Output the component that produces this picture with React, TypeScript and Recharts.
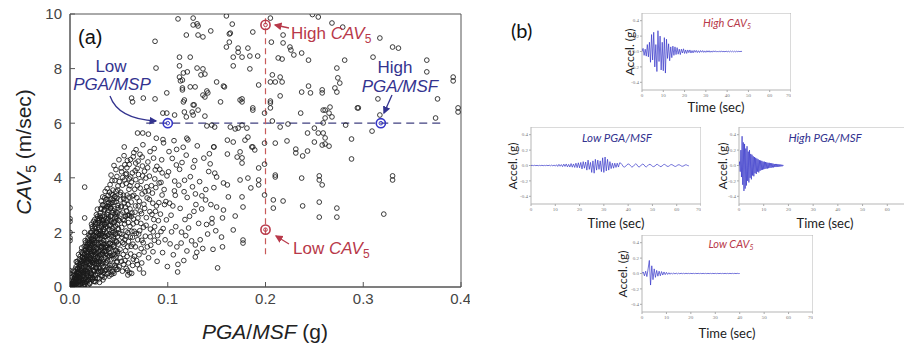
import { ScatterChart, Scatter, XAxis, YAxis, ReferenceLine, ReferenceArea, LineChart, Line } from "recharts";

// ---- panel (a) : CAV5 vs PGA/MSF ----
const pgaTicks = [0, 0.1, 0.2, 0.3, 0.4];
const cavTicks = [0, 2, 4, 6, 8, 10];

// dense part of the cloud, PGA/MSF <= 0.05 g
const denseCloud = [
  [0.001,0.02],[0.002,0.05],[0.003,0.03],[0.004,0.08],[0.002,0.12],[0.003,0.18],[0.004,0.25],[0.001,0.1],[0,0.5],[0,0.6],[0,1.7],[0,1.8],[0,2.0],[0,2.5],[0,2.9],[0,2.4],
  [0.005,0.05],[0.006,0.1],[0.007,0.15],[0.008,0.08],[0.006,0.25],[0.007,0.3],[0.008,0.4],[0.009,0.2],[0.005,0.35],[0.009,0.55],[0.008,0.65],[0.007,0.5],[0.006,0.45],[0.009,0.35],[0.0095,0.75],
  [0.010,0.1],[0.011,0.2],[0.012,0.3],[0.013,0.15],[0.014,0.25],[0.010,0.45],[0.011,0.6],[0.012,0.7],[0.013,0.55],[0.014,0.85],[0.012,0.95],[0.013,1.1],[0.011,0.85],[0.014,0.5],[0.010,0.35],[0.0135,0.4],[0.0125,1.25],[0.014,1.05],
  [0.015,0.1],[0.016,0.3],[0.017,0.2],[0.018,0.4],[0.019,0.25],[0.015,0.6],[0.016,0.75],[0.017,0.9],[0.018,1.0],[0.019,0.7],[0.015,1.2],[0.016,1.35],[0.017,1.5],[0.018,1.25],[0.019,1.6],[0.017,1.1],[0.016,0.5],[0.019,1.4],[0.018,0.55],[0.0155,1.7],[0.0185,1.8],[0.015,2.0],
  [0.020,0.15],[0.021,0.35],[0.022,0.5],[0.023,0.3],[0.024,0.6],[0.020,0.8],[0.021,1.0],[0.022,1.15],[0.023,0.9],[0.024,1.3],[0.020,1.45],[0.021,1.6],[0.022,1.75],[0.023,1.5],[0.024,1.9],[0.021,2.0],[0.023,2.15],[0.022,1.3],[0.020,1.1],[0.024,0.95],[0.022,2.3],[0.024,2.4],[0.0205,0.6],[0.0235,1.7],
  [0.025,0.2],[0.026,0.45],[0.027,0.7],[0.028,0.5],[0.029,0.85],[0.025,1.0],[0.026,1.2],[0.027,1.4],[0.028,1.1],[0.029,1.55],[0.025,1.7],[0.026,1.85],[0.027,2.0],[0.028,1.8],[0.029,2.1],[0.026,2.3],[0.028,2.5],[0.027,2.65],[0.029,2.35],[0.025,2.2],[0.029,1.25],[0.027,0.95],[0.026,0.7],[0.028,2.85],[0.0255,1.45],
  [0.030,0.3],[0.031,0.55],[0.032,0.8],[0.033,0.6],[0.034,1.0],[0.030,1.15],[0.031,1.35],[0.032,1.5],[0.033,1.25],[0.034,1.7],[0.030,1.9],[0.031,2.05],[0.032,2.2],[0.033,1.95],[0.034,2.35],[0.030,2.5],[0.031,2.7],[0.032,2.85],[0.033,2.6],[0.034,3.0],[0.032,3.15],[0.030,0.9],[0.033,0.4],[0.034,1.45],[0.031,1.75],[0.0325,2.45],[0.0335,3.3],
  [0.035,0.35],[0.036,0.6],[0.037,0.9],[0.038,0.7],[0.039,1.1],[0.035,1.3],[0.036,1.5],[0.037,1.7],[0.038,1.45],[0.039,1.9],[0.035,2.1],[0.036,2.3],[0.037,2.5],[0.038,2.2],[0.039,2.65],[0.035,2.8],[0.036,3.0],[0.037,3.2],[0.038,2.95],[0.039,3.35],[0.036,3.5],[0.038,3.6],[0.037,1.2],[0.039,0.5],[0.0355,1.85],[0.0385,2.45],
  [0.040,0.4],[0.041,0.7],[0.042,1.0],[0.043,0.8],[0.044,1.2],[0.040,1.4],[0.041,1.6],[0.042,1.85],[0.043,1.55],[0.044,2.0],[0.040,2.25],[0.041,2.45],[0.042,2.6],[0.043,2.35],[0.044,2.8],[0.040,3.0],[0.041,3.2],[0.042,3.4],[0.043,3.1],[0.044,3.55],[0.041,3.75],[0.043,3.9],[0.042,4.1],[0.044,0.55],[0.0405,1.15],[0.0435,2.15],[0.0415,2.9],
  [0.045,0.5],[0.046,0.8],[0.047,1.1],[0.048,0.9],[0.049,1.3],[0.045,1.5],[0.046,1.7],[0.047,1.95],[0.048,1.65],[0.049,2.15],[0.045,2.35],[0.046,2.55],[0.047,2.75],[0.048,2.5],[0.049,2.9],[0.045,3.1],[0.046,3.3],[0.047,3.5],[0.048,3.25],[0.049,3.7],[0.046,3.9],[0.048,4.05],[0.047,4.3],[0.045,4.45],[0.049,0.65],[0.0465,1.35],[0.0485,2.3],
];

// more records inside the black core
const coreCloud = [
  [0.0021,0.14],[0.0093,0.52],[0.0047,0.03],[0.0128,0.87],[0.0066,0.31],[0.0112,0.09],[0.0035,0.22],[0.0141,0.44],[0.0078,0.68],[0.0019,0.36],[0.0104,1.12],[0.0059,0.11],[0.0133,0.26],[0.0087,0.19],[0.0149,1.03],[0.0026,0.07],[0.0118,0.61],[0.0071,0.42],[0.0097,0.83],[0.0052,0.57],
  [0.0137,0.71],[0.0011,0.25],[0.0084,0.05],[0.0123,0.38],[0.0062,0.74],[0.0108,0.29],[0.0039,0.46],[0.0146,0.16],[0.0075,0.93],[0.0114,0.79],[0.0029,0.11],[0.0091,0.33],[0.0056,0.2],[0.0131,1.21],[0.0069,0.05],[0.0101,0.65],[0.0044,0.31],[0.0139,0.56],[0.0081,0.47],[0.0017,0.04],
  [0.0153,0.33],[0.0228,1.41],[0.0184,0.07],[0.0271,0.88],[0.0166,1.27],[0.0243,0.21],[0.0199,1.69],[0.0291,1.96],[0.0175,0.58],[0.0257,1.12],[0.0212,0.41],[0.0284,0.33],[0.0161,0.92],[0.0236,2.07],[0.0192,1.04],[0.0269,1.63],[0.0221,0.76],[0.0298,1.31],[0.0178,1.46],[0.0249,0.57],
  [0.0205,1.88],[0.0277,2.31],[0.0158,0.62],[0.0233,0.98],[0.0188,0.26],[0.0262,1.84],[0.0216,1.53],[0.0295,0.71],[0.0171,1.13],[0.0244,1.37],[0.0202,0.12],[0.0281,1.09],[0.0167,0.19],[0.0239,1.76],[0.0195,0.69],[0.0266,0.42],[0.0226,2.21],[0.0289,1.58],[0.0181,1.71],[0.0253,0.87],
  [0.0209,1.22],[0.0274,2.02],[0.0163,1.48],[0.0231,0.35],[0.0197,1.37],[0.0259,2.14],[0.0218,0.95],[0.0293,2.43],[0.0186,0.84],[0.0247,1.62],[0.0207,0.53],[0.0279,1.43],[0.0172,0.44],[0.0241,1.19],[0.0194,1.91],[0.0264,0.19],[0.0223,1.67],[0.0286,0.94],[0.0155,1.07],[0.0237,0.74],
  [0.0304,2.61],[0.0387,1.17],[0.0341,0.52],[0.0452,2.38],[0.0318,1.44],[0.0419,3.04],[0.0363,2.19],[0.0476,1.66],[0.0329,0.87],[0.0401,1.93],[0.0352,2.84],[0.0468,0.71],[0.0312,1.95],[0.0436,2.72],[0.0374,1.51],[0.0491,2.99],[0.0337,2.43],[0.0409,0.79],[0.0358,1.08],[0.0443,1.79],
  [0.0323,0.41],[0.0427,2.07],[0.0381,3.22],[0.0484,1.24],[0.0346,1.71],[0.0395,2.53],[0.0369,0.64],[0.0459,3.31],[0.0308,1.18],[0.0415,1.42],[0.0377,2.67],[0.0497,2.11],[0.0333,3.01],[0.0448,1.04],[0.0361,1.86],[0.0473,2.58],[0.0317,2.27],[0.0405,3.47],[0.0386,0.96],[0.0462,1.93],
  [0.0349,1.29],[0.0431,0.58],[0.0371,2.36],[0.0489,3.55],[0.0326,1.63],[0.0422,2.41],[0.0356,3.27],[0.0457,2.86],[0.0339,0.73],[0.0411,1.61],[0.0383,1.89],[0.0479,0.93],[0.0314,2.88],[0.0439,3.38],[0.0366,1.31],[0.0494,1.57],[0.0343,2.12],[0.0398,2.94],[0.0378,0.47],[0.0466,2.23],
  [0.0321,1.06],[0.0446,1.47],[0.0354,2.57],[0.0487,2.71],[0.0334,1.87],[0.0413,2.26],[0.0391,1.39],[0.0471,3.12],[0.0306,0.69],[0.0428,1.15],
  [0.0043,0.41],[0.0138,0.97],[0.0076,0.24],[0.0167,1.39],[0.0121,0.14],[0.0054,0.66],[0.0183,0.49],[0.0095,1.01],[0.0152,0.08],[0.0064,0.93],[0.0129,0.53],[0.0188,1.17],[0.0034,0.58],[0.0116,1.29],[0.0172,0.71],[0.0081,0.87],[0.0145,1.49],[0.0102,0.22],[0.0196,0.36],[0.0058,0.39],
  [0.0134,0.04],[0.0169,1.02],[0.0088,1.19],[0.0111,0.47],[0.0179,1.58],[0.0049,0.18],[0.0157,0.81],[0.0099,0.72],[0.0143,1.33],[0.0073,0.55],[0.0191,0.93],[0.0125,1.08],[0.0061,0.28],[0.0174,0.27],[0.0106,0.91],[0.0159,1.62],[0.0086,0.36],[0.0119,1.43],[0.0185,1.31],[0.0041,0.08],
  [0.0212,0.84],[0.0297,2.18],[0.0248,1.47],[0.0333,1.34],[0.0227,0.27],[0.0318,0.58],[0.0263,2.36],[0.0344,2.47],[0.0201,1.63],[0.0286,1.77],[0.0239,0.63],[0.0327,2.31],[0.0258,0.32],[0.0309,1.62],[0.0219,1.99],[0.0341,0.91],[0.0272,1.23],[0.0302,0.17],[0.0234,1.87],[0.0321,1.91],
  [0.0253,2.47],[0.0347,1.57],[0.0208,1.04],[0.0291,0.59],[0.0244,0.91],[0.0314,2.54],[0.0269,0.68],[0.0337,0.26],[0.0225,1.21],[0.0306,1.47],[0.0276,1.9],[0.0329,1.19],[0.0215,0.47],[0.0283,2.59],[0.0251,1.29],[0.0339,2.03],[0.0232,1.59],[0.0311,0.94],[0.0267,2.01],[0.0294,1.04],
  [0.0362,1.45],[0.0451,2.02],[0.0397,0.66],[0.0518,2.93],[0.0384,2.74],[0.0472,1.32],[0.0419,2.88],[0.0539,1.63],[0.0372,1.97],[0.0463,2.67],[0.0408,1.24],[0.0527,0.94],[0.0393,3.09],[0.0487,1.86],[0.0424,0.46],[0.0556,2.44],[0.0367,0.88],[0.0441,3.19],[0.0403,2.11],[0.0574,1.86],
  [0.0352,2.29],[0.0495,2.46],[0.0431,1.73],[0.0549,3.23],[0.0389,1.59],[0.0478,0.64],[0.0416,2.59],[0.0586,2.62],[0.0374,2.89],[0.0458,1.18],
];

// 0.05 - 0.15 g, thinning out
const outerCloud = [
  [0.0512,1.38],[0.0634,2.71],[0.0571,4.12],[0.0789,3.26],[0.0548,0.83],[0.0703,1.94],[0.0662,3.58],[0.0857,2.47],[0.0527,2.96],[0.0741,4.43],[0.0598,1.67],[0.0912,3.81],[0.0583,3.37],[0.0681,0.97],[0.0613,2.22],[0.0826,1.53],[0.0539,4.01],[0.0764,2.88],[0.0647,4.77],[0.0953,2.14],
  [0.0506,2.43],[0.0718,3.62],[0.0589,0.61],[0.0872,4.29],[0.0621,1.21],[0.0695,2.53],[0.0556,3.08],[0.0804,1.07],[0.0673,3.93],[0.0938,4.66],[0.0533,1.82],[0.0752,2.19],[0.0606,4.49],[0.0843,3.44],[0.0567,2.58],[0.0728,1.41],[0.0641,0.79],[0.0896,1.88],[0.0518,3.47],[0.0776,3.99],
  [0.0626,3.11],[0.0981,3.13],[0.0592,1.99],[0.0687,4.34],[0.0545,1.19],[0.0817,2.76],[0.0657,2.04],[0.0925,2.67],[0.0575,3.79],[0.0734,0.88],[0.0614,2.86],[0.0862,5.07],[0.0503,0.74],[0.0709,3.14],[0.0669,1.47],[0.0947,1.26],[0.0559,2.31],[0.0797,4.58],[0.0638,4.18],[0.0884,2.97],
  [0.0524,4.36],[0.0611,0.52],[0.0746,5.21],[0.0693,1.73],[0.0552,1.57],[0.0833,3.71],[0.0578,2.79],[0.0716,4.86],[0.0649,2.49],[0.0905,1.64],[0.0537,3.73],[0.0771,1.86],[0.0628,3.84],[0.0866,2.21],[0.0587,4.63],[0.0699,2.97],[0.0509,1.96],[0.0812,4.06],[0.0659,1.12],[0.0963,3.57],
  [0.0563,0.97],[0.0738,3.41],[0.0617,1.83],[0.0849,1.29],[0.0596,2.36],[0.0684,3.27],[0.0541,2.74],[0.0781,2.54],[0.0672,4.54],[0.0918,4.31],[0.0515,3.19],[0.0725,2.33],[0.0603,3.58],[0.0878,3.64],[0.0569,1.33],[0.0756,3.03],[0.0644,1.57],[0.0992,4.07],[0.0582,4.37],[0.0706,1.18],
  [0.0529,2.18],[0.0823,2.12],[0.0653,3.36],[0.0931,2.03],[0.0574,3.18],[0.0743,4.07],[0.0619,4.67],[0.0855,4.72],[0.0501,4.66],[0.0711,0.66],[0.0665,2.74],[0.0957,5.28],[0.0553,4.81],[0.0791,1.47],[0.0632,2.04],[0.0891,0.94],[0.0593,3.02],[0.0677,1.96],[0.0547,3.36],[0.0802,3.52],
  [0.0676,5.03],[0.0942,3.37],[0.0536,0.58],[0.0762,4.24],[0.0609,2.63],[0.0838,2.66],[0.0584,1.12],[0.0732,2.69],[0.0637,3.33],[0.0973,1.73],[0.0521,2.67],[0.0784,3.67],[0.0666,4.26],[0.0909,3.09],[0.0561,4.48],[0.0701,4.12],[0.0625,1.49],[0.0867,3.96],[0.0597,0.88],[0.0689,3.71],
  [0.0513,1.07],[0.0819,4.96],[0.0647,1.02],[0.0986,2.46],[0.0572,2.05],[0.0749,1.62],[0.0604,3.29],[0.0851,2.02],[0.0558,3.92],[0.0719,2.78],[0.0744,5.64],[0.0691,5.64],[0.0555,5.13],[0.0802,5.6],[0.0883,5.45],[0.0951,5.4],[0.0631,0.5],[0.0752,0.51],[0.0592,0.44],[0.0996,0.75],
  [0.0531,1.93],[0.0727,3.87],[0.0613,3.71],[0.0863,1.71],[0.0568,2.93],[0.0779,2.26],[0.0646,2.31],[0.0931,3.83],[0.0504,3.86],[0.0697,4.61],[0.0589,1.47],[0.0812,3.21],[0.0671,2.97],[0.0889,4.42],[0.0544,2.48],[0.0758,1.28],[0.0621,4.03],[0.0847,3.07],[0.0577,4.16],[0.0713,2.06],
  [0.0639,1.82],[0.0904,2.43],[0.0516,3.38],[0.0768,3.49],[0.0653,4.92],[0.0967,3.02],[0.0596,2.63],[0.0735,1.71],[0.0528,4.22],[0.0821,1.84],[0.0682,2.37],[0.0875,2.77],[0.0561,1.74],[0.0794,4.37],[0.0607,3.96],[0.0943,4.18],[0.0575,0.68],[0.0689,0.82],[0.0738,4.76],[0.0626,2.58],
  [0.1034,2.63],[0.1172,3.91],[0.1093,1.47],[0.1261,4.39],[0.1127,2.88],[0.1389,3.57],[0.1046,4.71],[0.1213,2.16],[0.1332,1.73],[0.1158,5.12],[0.1419,4.23],[0.1077,3.36],[0.1288,3.02],[0.1196,1.32],[0.1453,2.51],[0.1064,5.36],
  [0.1019,3.07],[0.1231,4.04],[0.1082,2.21],[0.1347,2.86],[0.1146,4.56],[0.1408,1.94],[0.1057,1.18],[0.1283,3.41],[0.1113,3.73],[0.1472,3.64],[0.1008,4.22],[0.1244,1.69],[0.1176,2.47],[0.1369,4.72],[0.1091,5.04],[0.1316,2.33],[0.1137,1.61],[0.1434,4.51],[0.1039,2.02],[0.1268,2.77],
  [0.1199,3.28],[0.1387,3.19],[0.1071,3.88],[0.1302,5.17],[0.1164,0.97],[0.1491,2.06],[0.1024,1.58],[0.1253,3.67],[0.1121,4.31],[0.1358,1.41],[0.1189,4.83],[0.1441,3.02],[0.1052,2.97],[0.1276,4.63],[0.1104,0.83],[0.1326,3.86],[0.1167,3.49],[0.1463,1.38],[0.1013,4.96],[0.1223,2.59],
  [0.1088,4.47],[0.1397,2.29],[0.1141,2.01],[0.1297,1.27],[0.1206,5.39],[0.1426,4.88],[0.1068,3.52],[0.1349,3.34],[0.1184,1.88],[0.1481,4.17],[0.1101,0.55],[0.1282,1.1],[0.1282,1.54],[0.1452,2.34],[0.1473,5.13],[0.1195,5.45],
];

// sparse records above ~6 m/sec
const upperRecords = [
  [0.1105,9.82],[0.126,9.85],[0.126,9.6],[0.130,9.64],[0.131,9.56],[0.160,9.93],[0.087,9.0],[0.119,9.23],[0.131,9.23],[0.136,9.16],[0.144,9.38],[0.163,9.27],[0.163,8.97],[0.166,9.63],[0.160,8.79],[0.172,8.75],[0.172,8.6],[0.182,8.75],[0.187,9.34],
  [0.112,8.42],[0.123,8.42],[0.112,8.1],[0.116,7.84],[0.120,7.88],[0.112,7.69],[0.113,7.55],[0.130,8.02],[0.136,7.99],[0.134,7.77],[0.138,7.8],[0.088,8.02],[0.167,8.42],[0.167,8.1],[0.176,8.42],[0.184,8.46],[0.192,8.46],[0.184,7.99],
  [0.128,7.33],[0.140,7.18],[0.141,7.11],[0.136,7.03],[0.138,6.96],[0.115,7.22],[0.099,7.11],[0.150,7.51],[0.158,7.33],[0.117,6.85],[0.126,6.67],[0.117,6.41],[0.125,6.41],[0.131,6.48],[0.176,6.89],[0.193,7.4],[0.187,6.48],
  [0.205,6.81],[0.205,6.74],[0.205,6.56],[0.205,9.85],[0.207,7.77],[0.205,7.51],[0.210,7.51],[0.215,7.69],[0.217,7.51],[0.218,9.23],[0.218,8.94],[0.225,8.79],[0.226,8.68],[0.206,8.97],[0.213,8.39],[0.217,8.35],[0.229,8.5],[0.237,8.57],[0.244,8.31],[0.248,9.98],[0.254,9.89],
  [0.215,7.0],[0.237,7.14],[0.244,7.36],[0.258,7.22],[0.258,7.11],[0.246,7.11],[0.261,6.48],[0.266,6.59],[0.236,6.37],[0.199,6.37],[0.279,9.52],[0.268,9.67],[0.317,9.12],[0.330,8.79],[0.336,8.75],[0.310,8.42],[0.365,8.31],[0.281,8.31],
  [0.273,8.02],[0.274,7.66],[0.276,7.47],[0.365,7.88],[0.392,7.69],[0.392,7.55],[0.271,7.29],[0.273,7.14],[0.376,6.89],[0.315,6.89],[0.294,6.56],[0.317,6.3],[0.397,6.56],[0.397,6.41],[0.374,6.19],
  [0.063,6.92],[0.075,6.92],[0.087,6.89],[0.064,6.78],[0.099,6.37],[0.095,6.37],[0.115,7.58],[0.115,7.29],[0.123,7.33],[0.107,6.3],[0.119,6.23],[0.126,6.3],[0.138,6.26],[0.127,6.67],[0.116,6.78],[0.154,6.78],[0.176,6.78],[0.187,6.56],
  [0.164,9.3],[0.157,7.36],[0.174,6.85],[0.259,6.48],[0.265,6.37],[0.268,6.23],[0.295,6.56],
];

// sparse records below ~6.3 m/sec, right of the cloud
const middleRecords = [
  [0.261,6.19],[0.259,6.01],[0.207,6.08],[0.215,5.86],[0.223,5.97],[0.250,5.82],[0.243,5.64],[0.254,5.64],[0.259,5.64],[0.261,5.46],[0.258,5.2],[0.261,5.24],[0.265,5.16],[0.250,5.31],[0.282,5.93],[0.309,5.71],[0.288,5.42],
  [0.210,5.27],[0.222,5.35],[0.231,5.05],[0.231,4.91],[0.238,4.8],[0.243,4.98],[0.288,4.69],[0.210,4.1],[0.210,4.03],[0.237,3.99],[0.255,4.07],[0.255,3.92],[0.258,3.74],[0.330,4.07],[0.330,3.92],
  [0.208,3.19],[0.218,3.15],[0.208,2.89],[0.238,2.97],[0.255,3.11],[0.255,2.56],[0.273,2.89],[0.273,2.56],[0.321,2.67],
  [0.145,5.93],[0.148,5.86],[0.140,5.9],[0.164,5.86],[0.169,5.79],[0.176,5.93],[0.181,5.82],[0.161,5.38],[0.167,5.31],[0.179,5.38],[0.186,5.13],[0.189,5.02],[0.147,5.13],[0.174,4.95],[0.176,4.73],[0.176,4.54],[0.161,4.87],[0.171,4.76],
  [0.150,4.03],[0.157,3.81],[0.161,3.74],[0.174,3.92],[0.182,3.99],[0.185,3.63],[0.193,4.36],[0.193,3.92],[0.193,3.74],[0.162,3.3],[0.176,3.3],[0.177,2.93],[0.150,2.93],[0.157,2.82],[0.169,2.6],[0.156,2.53],
  [0.177,1.72],[0.177,1.61],[0.155,1.83],[0.156,1.47],[0.167,2.09],[0.151,0.7],[0.015,3.66],[0.015,2.53],[0.199,5.27],[0.199,3.37],[0.199,4.5],[0.182,5.49],[0.187,5.13],[0.172,5.82],
];

const lowPgaRecord = [[0.1, 6]];
const highPgaRecord = [[0.318, 6]];
const highCavRecord = [[0.2, 9.6]];
const lowCavRecord = [[0.2, 2.1]];

// ---- panel (b) : acceleration time histories ----
const timeTicks = [0, 10, 20, 30, 40, 50, 60, 70];
const clippedTimeTicks = [0, 10, 20, 30, 40, 50, 60];
const accelTicks = [-0.4, -0.2, 0, 0.2, 0.4];

// sampled every 0.5 s
const highCavAccel = [0.00,0.04,-0.05,0.03,-0.06,0.09,-0.07,0.12,-0.14,0.22,-0.11,0.25,-0.20,0.09,-0.26,0.27,-0.13,0.20,-0.24,0.12,-0.25,0.18,-0.28,0.16,-0.09,0.10,-0.12,0.06,-0.08,0.07,-0.05,0.06,-0.04,0.05,-0.035,0.03,-0.04,0.03,-0.02,0.035,-0.025,0.02,-0.025,0.02,-0.015,0.02,-0.02,0.012,-0.018,0.015,-0.01,0.014,-0.014,0.01,-0.013,0.012,-0.009,0.012,-0.011,0.008,-0.011,0.01,-0.008,0.01,-0.01,0.007,-0.009,0.009,-0.007,0.009,-0.008,0.006,-0.008,0.008,-0.006,0.007,-0.007,0.005,-0.007,0.007,-0.006,0.005,-0.006,0.006,-0.004,0.005,-0.005,0.004,-0.005,0.005,-0.004,0.004,-0.003,0.003,0.0];
// sampled every 0.5 s
const lowPgaAccel = [0,0.002,-0.002,0.003,-0.002,0.002,-0.003,0.002,-0.002,0.003,-0.003,0.002,-0.002,0.003,-0.003,0.004,-0.004,0.005,-0.005,0.006,
  -0.008,0.01,-0.012,0.015,-0.01,0.012,-0.015,0.018,-0.012,0.02,-0.018,0.015,-0.02,0.025,-0.022,0.02,-0.025,0.03,-0.028,0.035,
  -0.03,0.04,-0.045,0.05,-0.035,0.045,-0.06,0.07,-0.05,0.04,
  -0.09,0.06,-0.1,0.08,-0.06,0.07,-0.05,0.06,-0.08,0.1,-0.09,0.11,-0.07,0.08,-0.06,0.05,
  -0.04,0.03,-0.035,0.03,-0.025,0.03,-0.02,0.035,
  0.03,0.01,-0.015,-0.02,-0.01,0.01,0.02,0.015,-0.005,-0.02,-0.015,0.005,0.02,0.015,-0.01,-0.02,-0.01,0.01,0.018,0.01,-0.012,-0.018,-0.005,0.012,0.015,0.005,-0.01,-0.015,-0.008,0.01,0.015,0.006,-0.01,-0.015,-0.005,0.01,0.014,0.004,-0.01,-0.012,-0.003,0.01,0.012,0.003,-0.008,-0.012,-0.004,0.008,0.01,0.002,-0.008,-0.01,-0.002,0.008,0.008,0.0,-0.005];
// sampled every 0.25 s
const highPgaAccel = [0,0.05,-0.08,0.2,-0.15,0.38,-0.25,0.3,-0.33,0.28,-0.3,0.22,-0.26,0.25,-0.2,0.18,-0.22,0.2,-0.16,0.15,-0.18,0.14,-0.13,0.12,-0.14,0.11,-0.1,0.1,-0.11,0.09,-0.08,0.08,-0.09,0.07,-0.07,0.065,-0.06,0.06,-0.055,0.05,-0.05,0.05,-0.045,0.045,-0.04,0.04,-0.04,0.035,-0.035,0.035,-0.03,0.03,-0.03,0.03,-0.025,0.025,-0.025,0.02,-0.02,0.02,-0.02,0.02,-0.018,0.018,-0.015,0.015,-0.015,0.012,-0.012,0.01,-0.01,0.008,0.0];
// sampled every 0.5 s
const lowCavAccel = [0,0.02,-0.03,0.03,-0.04,0.06,0.17,-0.15,0.1,-0.08,0.06,-0.05,0.04,-0.035,0.03,-0.03,0.025,-0.02,0.02,-0.015,0.015,-0.012,0.01,-0.01,0.008,-0.008,0.006,-0.006,0.005,-0.005,0.004,-0.004,0.004,-0.003,0.003,-0.003,0.003,-0.002,0.002,-0.002,0.002,-0.002,0.002,-0.002,0.002,-0.002,0.002,-0.002,0.002,-0.002,0.002,-0.002,0.002,-0.002,0.002,-0.002,0.002,-0.002,0.002,-0.002,0.002,-0.002,0.002,-0.002,0.002,-0.002,0.002,-0.002,0.002,-0.002,0.002,-0.002,0.002,-0.002,0.002,-0.002,0.002,-0.002,0.002,-0.001,0];

const toPoints = (pairs) => pairs.map(([x, y]) => ({ x, y }));
const toSeries = (vals, dt) => vals.map((a, i) => ({ t: i * dt, a }));

const RED = "#b8394a";
const NAVY = "#33338f";
const BLUE = "#3535c8";

const openCircle = (props) => (
  <circle cx={props.cx} cy={props.cy} r={2.35} fill="none" stroke="#1a1a1a" strokeWidth={0.85} />
);
const marker = (color) => (props) => (
  <g>
    <circle cx={props.cx} cy={props.cy} r={4.6} fill="none" stroke={color} strokeWidth={1.6} />
    <circle cx={props.cx} cy={props.cy} r={1.8} fill="none" stroke={color} strokeWidth={1} />
  </g>
);

const Trace = ({ vals, dt, left, top, w, h, ticks = timeTicks }) => {
  const YW = 12;
  const XH = 10;
  return (
    <div style={{ position: "absolute", left: left - YW, top }}>
      <LineChart width={w + YW} height={h + XH} data={toSeries(vals, dt)} margin={{ top: 0, right: 0, bottom: 0, left: 0 }}>
        <XAxis type="number" dataKey="t" domain={[0, 70]} ticks={ticks} allowDataOverflow height={XH}
          axisLine={false} tickSize={2} tickMargin={1} tickLine={{ stroke: "#aaa" }} tick={{ fontSize: 5, fill: "#777" }} />
        <YAxis type="number" domain={[-0.5, 0.5]} ticks={accelTicks} allowDataOverflow width={YW}
          axisLine={false} tickSize={2} tickMargin={1} tickLine={{ stroke: "#aaa" }} tick={{ fontSize: 5, fill: "#777" }}
          tickFormatter={(v) => v.toFixed(1)} />
        <ReferenceArea x1={0} x2={70} y1={-0.5} y2={0.5} fill="none" stroke="#b5b5b5" strokeWidth={1} />
        <Line dataKey="a" stroke={BLUE} strokeWidth={0.7} dot={false} isAnimationActive={false} />
      </LineChart>
    </div>
  );
};

const axisFont = "'Liberation Sans', Arial, sans-serif";
const calFont = "Lato, 'Open Sans', sans-serif";

export default function App() {
  return (
    <div style={{ position: "absolute", left: 0, top: 0, width: 904, height: 347, overflow: "hidden", background: "#fff" }}>
      <div style={{ position: "absolute", left: 0, top: 0 }}>
        <ScatterChart width={470} height={347} margin={{ top: 14, right: 9, bottom: 30, left: 0 }}>
          <XAxis type="number" dataKey="x" domain={[0, 0.4]} ticks={pgaTicks} allowDataOverflow height={30}
            tickFormatter={(v) => v.toFixed(1)} tickSize={-5} tickMargin={11}
            axisLine={{ stroke: "#555" }} tickLine={{ stroke: "#555" }}
            tick={{ fontSize: 15, fill: "#444", fontFamily: axisFont }} />
          <YAxis type="number" dataKey="y" domain={[0, 10]} ticks={cavTicks} allowDataOverflow width={70}
            tickSize={-5} tickMargin={13} axisLine={{ stroke: "#555" }} tickLine={{ stroke: "#555" }}
            tick={{ fontSize: 15, fill: "#444", fontFamily: axisFont }} />
          <ReferenceArea x1={0} x2={0.4} y1={0} y2={10} fill="none" stroke="#555" strokeWidth={1} />
          <Scatter data={toPoints(denseCloud)} shape={openCircle} isAnimationActive={false} />
          <Scatter data={toPoints(coreCloud)} shape={openCircle} isAnimationActive={false} />
          <Scatter data={toPoints(outerCloud)} shape={openCircle} isAnimationActive={false} />
          <Scatter data={toPoints(upperRecords)} shape={openCircle} isAnimationActive={false} />
          <Scatter data={toPoints(middleRecords)} shape={openCircle} isAnimationActive={false} />
          <ReferenceLine segment={[{ x: 0.078, y: 6 }, { x: 0.38, y: 6 }]} stroke="#404080" strokeWidth={1.2} strokeDasharray="8 5" />
          <ReferenceLine segment={[{ x: 0.2, y: 1.2 }, { x: 0.2, y: 10 }]} stroke="#c85a5a" strokeWidth={1.2} strokeDasharray="6 4" />
          <Scatter data={toPoints(lowPgaRecord)} shape={marker(BLUE)} isAnimationActive={false} />
          <Scatter data={toPoints(highPgaRecord)} shape={marker(BLUE)} isAnimationActive={false} />
          <Scatter data={toPoints(highCavRecord)} shape={marker(RED)} isAnimationActive={false} />
          <Scatter data={toPoints(lowCavRecord)} shape={marker(RED)} isAnimationActive={false} />
        </ScatterChart>
      </div>

      <Trace vals={highCavAccel} dt={0.5} left={642} top={13} w={149} h={77} />
      <Trace vals={lowPgaAccel} dt={0.5} left={531} top={127} w={170} h={77} />
      <Trace vals={highPgaAccel} dt={0.25} left={739} top={127} w={173} h={77} ticks={clippedTimeTicks} />
      <Trace vals={lowCavAccel} dt={0.5} left={642} top={235} w={171} h={77} />

      <svg width={904} height={347} style={{ position: "absolute", left: 0, top: 0, pointerEvents: "none" }}>
        <defs>
          <marker id="hb" markerWidth="8" markerHeight="8" refX="5" refY="3" orient="auto">
            <path d="M0,0 L6,3 L0,6 z" fill={NAVY} />
          </marker>
          <marker id="hr" markerWidth="8" markerHeight="8" refX="5" refY="3" orient="auto">
            <path d="M0,0 L6,3 L0,6 z" fill={RED} />
          </marker>
        </defs>
        <g fontFamily={axisFont}>
          <text x={78} y={44} fontSize={20} fill="#111">(a)</text>
          <text transform="translate(31,152) rotate(-90)" textAnchor="middle" fontSize={21} fill="#222">
            <tspan fontStyle="italic">CAV</tspan><tspan fontSize={14} dy={5}>5</tspan><tspan dy={-5}> (m/sec)</tspan>
          </text>
          <text x={265} y={339} textAnchor="middle" fontSize={21} fill="#222">
            <tspan fontStyle="italic">PGA</tspan>/<tspan fontStyle="italic">MSF</tspan> (g)
          </text>
          <text x={111} y={72} textAnchor="middle" fontSize={17} fill={NAVY}>Low</text>
          <text x={112} y={90} textAnchor="middle" fontSize={17} fill={NAVY} fontStyle="italic">PGA/MSP</text>
          <path d="M110,96 Q118,119 156,121" fill="none" stroke={NAVY} strokeWidth={1.3} markerEnd="url(#hb)" />
          <text x={395} y={73} textAnchor="middle" fontSize={17} fill={NAVY}>High</text>
          <text x={400} y={92} textAnchor="middle" fontSize={17} fill={NAVY} fontStyle="italic">PGA/MSF</text>
          <path d="M392,95 L384,113" fill="none" stroke={NAVY} strokeWidth={1.3} markerEnd="url(#hb)" />
          <text x={291} y={39} fontSize={17} fill={RED}>High <tspan fontStyle="italic">CAV</tspan><tspan fontSize={12} dy={4}>5</tspan></text>
          <path d="M289,28 L275,25" fill="none" stroke={RED} strokeWidth={1.3} markerEnd="url(#hr)" />
          <text x={293} y={254} fontSize={17} fill={RED}>Low <tspan fontStyle="italic">CAV</tspan><tspan fontSize={12} dy={4}>5</tspan></text>
          <path d="M289,244 L276,236" fill="none" stroke={RED} strokeWidth={1.3} markerEnd="url(#hr)" />
        </g>
        <g fontFamily={calFont}>
          <text x={511} y={38} fontSize={20} fill="#111">(b)</text>

          <text x={727} y={27} textAnchor="middle" fontSize={11} fill={RED} fontStyle="italic">High CAV<tspan fontSize={7} dy={2}>5</tspan></text>
          <text transform="translate(634,52) rotate(-90)" textAnchor="middle" fontSize={12} fill="#222">Accel. (g)</text>
          <text x={716} y={112} textAnchor="middle" fontSize={13} fill="#222">Time (sec)</text>

          <text x={617} y={142} textAnchor="middle" fontSize={11.5} fill={NAVY} fontStyle="italic">Low PGA/MSF</text>
          <text transform="translate(517,166) rotate(-90)" textAnchor="middle" fontSize={12} fill="#222">Accel. (g)</text>
          <text x={616} y={228} textAnchor="middle" fontSize={13} fill="#222">Time (sec)</text>

          <text x={825} y={142} textAnchor="middle" fontSize={11.5} fill={NAVY} fontStyle="italic">High PGA/MSF</text>
          <text transform="translate(727,166) rotate(-90)" textAnchor="middle" fontSize={12} fill="#222">Accel. (g)</text>
          <text x={825} y={228} textAnchor="middle" fontSize={13} fill="#222">Time (sec)</text>

          <text x={731} y={248} textAnchor="middle" fontSize={11} fill={RED} fontStyle="italic">Low CAV<tspan fontSize={7} dy={2}>5</tspan></text>
          <text transform="translate(627,274) rotate(-90)" textAnchor="middle" fontSize={12} fill="#222">Accel. (g)</text>
          <text x={727} y={338} textAnchor="middle" fontSize={13} fill="#222">Time (sec)</text>
        </g>
      </svg>
    </div>
  );
}
